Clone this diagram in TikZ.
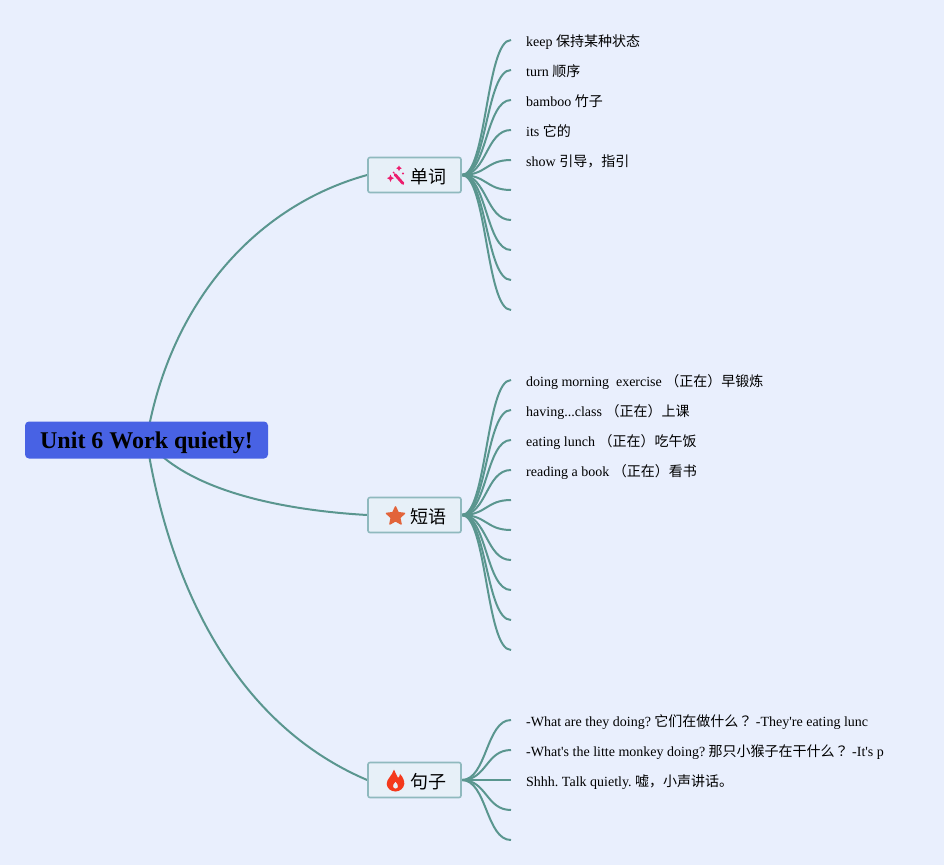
\documentclass[tikz,border=0pt]{standalone}
\usepackage{fontspec}
\newfontfamily\latinf{Liberation Serif}
\newfontfamily\cjk{Noto Sans CJK SC}
\newfontfamily\cjkq{Noto Sans CJK JP}
\usetikzlibrary{shapes.geometric}
\definecolor{bgc}{HTML}{E9EFFD}
\definecolor{linkc}{HTML}{5A968F}
\definecolor{rootc}{HTML}{4862E4}
\definecolor{boxf}{HTML}{E7F0F8}
\definecolor{boxd}{HTML}{8FB9BE}
\definecolor{wandc}{HTML}{EC1E6E}
\definecolor{starc}{HTML}{E2643A}
\definecolor{flamec}{HTML}{F4391C}
\pgfdeclarelayer{paper}\pgfdeclarelayer{links}
\pgfsetlayers{paper,links,main}
\tikzset{
  rootbox/.style={fill=rootc,rounded corners=4pt,minimum width=243pt,minimum height=37pt,inner sep=0pt,text height=16pt,text depth=0pt,font=\latinf\bfseries\fontsize{24}{28}\selectfont,text=black},
  branchbox/.style={draw=boxd,line width=1.6pt,fill=boxf,rounded corners=2pt,minimum width=93pt,minimum height=35pt,inner sep=0pt},
  branchtext/.style={font=\cjk\fontsize{18}{22}\selectfont,text=black,inner sep=0pt,anchor=west},
  leaf/.style={anchor=west,inner xsep=15pt,inner ysep=0pt,text height=12pt,text depth=0pt,font=\latinf\frenchspacing\fontsize{14}{16}\selectfont,text=black},
  mainlink/.style={draw=linkc,line width=2pt},
  leaflink/.style={draw=linkc,line width=2pt},
}
\newcommand{\leaflinks}[2]{%
  \foreach \t in {#2}{\draw[leaflink] (#1.east) .. controls +(25,0) and +(-25,0) .. (\t.west);}%
}
\begin{document}
\begin{tikzpicture}[x=1pt,y=-1pt]
\useasboundingbox (0,0) rectangle (944,865);
\begin{pgfonlayer}{paper}
\fill[bgc] (0,0) rectangle (944,865);
\end{pgfonlayer}

\node[rootbox] (root) at (146.5,440) {Unit 6 Work quietly!};
\node[branchbox] (b1) at (414.5,175) {};
\node[branchbox] (b2) at (414.5,515) {};
\node[branchbox] (b3) at (414.5,780) {};
\node[branchtext] (t1) at (410,176.2) {单词};
\node[branchtext] (t2) at (410,516.2) {短语};
\node[branchtext] (t3) at (410,781.2) {句子};

% leaves of 单词
\node[leaf] (a1) at (511,40) {keep {\cjk 保持某种状态}};
\node[leaf] (a2) at (511,70) {turn {\cjk 顺序}};
\node[leaf] (a3) at (511,100) {bamboo {\cjk 竹子}};
\node[leaf] (a4) at (511,130) {its {\cjk 它的}};
\node[leaf] (a5) at (511,160) {show {\cjk 引导，指引}};
\coordinate (a6) at (511,190);
\coordinate (a7) at (511,220);
\coordinate (a8) at (511,250);
\coordinate (a9) at (511,280);
\coordinate (a10) at (511,310);

% leaves of 短语
\node[leaf] (c1) at (511,380) {doing morning\ \ exercise {\cjk （正在）早锻炼}};
\node[leaf] (c2) at (511,410) {having...class {\cjk （正在）上课}};
\node[leaf] (c3) at (511,440) {eating lunch {\cjk （正在）吃午饭}};
\node[leaf] (c4) at (511,470) {reading a book {\cjk （正在）看书}};
\coordinate (c5) at (511,500);
\coordinate (c6) at (511,530);
\coordinate (c7) at (511,560);
\coordinate (c8) at (511,590);
\coordinate (c9) at (511,620);
\coordinate (c10) at (511,650);

% leaves of 句子
\node[leaf] (d1) at (511,720) {-What are they doing? {\cjk 它们在做什么}{\cjkq ？} -They're eating lunc};
\node[leaf] (d2) at (511,750) {-What's the litte monkey doing? {\cjk 那只小猴子在干什么}{\cjkq ？} -It's p};
\node[leaf] (d3) at (511,780) {Shhh. Talk quietly. {\cjk 嘘，小声讲话。}};
\coordinate (d4) at (511,810);
\coordinate (d5) at (511,840);

\begin{pgfonlayer}{links}
\draw[mainlink] (root.center) .. controls (170,300) and (258,205) .. (b1.west);
\draw[mainlink] (root.center) .. controls (185,490) and (280,510) .. (b2.west);
\draw[mainlink] (root.center) .. controls (170,590) and (238,725) .. (b3.west);
\leaflinks{b1}{a1,a2,a3,a4,a5,a6,a7,a8,a9,a10}
\leaflinks{b2}{c1,c2,c3,c4,c5,c6,c7,c8,c9,c10}
\leaflinks{b3}{d1,d2,d3,d4,d5}
\end{pgfonlayer}

% wand icon
\draw[wandc,line width=2.8pt,line cap=round] (395,174.5) -- (403,183.5);
\fill[wandc] (390.5,174.5) -- (391.6,177) -- (394,178.2) -- (391.6,179.4) -- (390.5,182) -- (389.4,179.4) -- (387,178.2) -- (389.4,177) -- cycle;
\fill[wandc] (399,165.5) -- (400,167.2) -- (401.8,168.2) -- (400,169.2) -- (399,171) -- (398,169.2) -- (396.2,168.2) -- (398,167.2) -- cycle;
\fill[wandc] (403,173.5) circle (1.2pt);
\fill[wandc] (393.5,172.5) circle (1pt);
% star icon
\node[star,star points=5,star point ratio=2.1,fill=starc,draw=starc,line join=round,line width=1.4pt,minimum size=19pt,inner sep=0pt] (s2) at (395.5,516.3) {};
% flame icon
\fill[flamec,even odd rule]
  (394,769.5) .. controls (396,774) and (397,776) .. (398,778)
  .. controls (399,777) and (400,776) .. (400,774)
  .. controls (403,777) and (404.5,781) .. (404.3,784)
  .. controls (403.8,788) and (400,791.5) .. (395.5,791.5)
  .. controls (390.5,791.5) and (387,788) .. (386.7,784)
  .. controls (386.5,779) and (392,776) .. (394,769.5) -- cycle
  (395.5,781.5) .. controls (394,783.5) and (392.6,785) .. (393,786.5)
  .. controls (393.4,788) and (394.3,788.6) .. (395.5,788.6)
  .. controls (396.9,788.6) and (398,787.8) .. (398,786.3)
  .. controls (398,784.5) and (396.7,783) .. (395.5,781.5) -- cycle;
\end{tikzpicture}
\end{document}
